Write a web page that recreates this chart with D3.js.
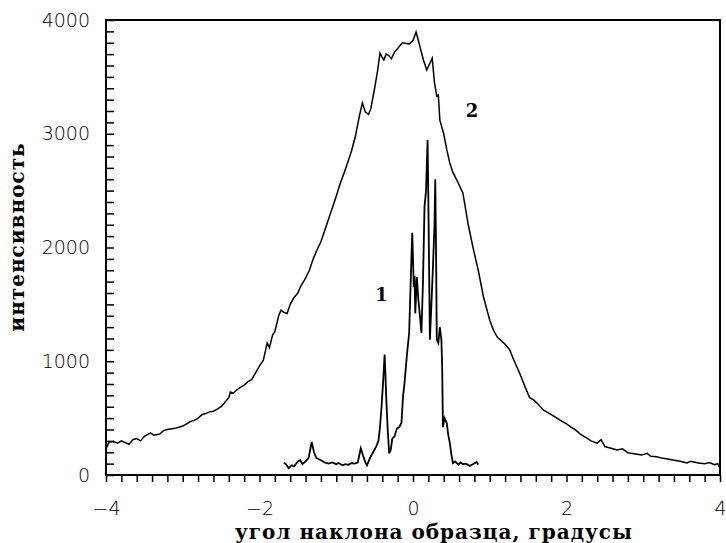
<!DOCTYPE html>
<html>
<head>
<meta charset="utf-8">
<script src="https://cdn.jsdelivr.net/npm/d3@7"></script>
<style>
body { margin: 0; background: #fff; }
</style>
</head>
<body>
<script>
// curve 2: broad rocking curve
let curve2 = [
  [-4.0, 230], [-3.96, 290], [-3.9, 295], [-3.85, 280], [-3.8, 300], [-3.75, 285], [-3.7, 270],
  [-3.65, 310], [-3.6, 320], [-3.55, 300], [-3.5, 340], [-3.45, 360], [-3.42, 370], [-3.38, 350],
  [-3.3, 360], [-3.25, 390], [-3.2, 400], [-3.1, 410], [-3.05, 420], [-3.0, 430], [-2.95, 450],
  [-2.9, 470], [-2.85, 480], [-2.8, 500], [-2.75, 530], [-2.7, 540], [-2.65, 555], [-2.6, 560],
  [-2.55, 580], [-2.5, 600], [-2.45, 640], [-2.4, 680], [-2.38, 730], [-2.34, 720], [-2.3, 745],
  [-2.25, 770], [-2.2, 790], [-2.15, 820], [-2.1, 840], [-2.05, 900], [-2.0, 960], [-1.95, 1010],
  [-1.9, 1160], [-1.87, 1120], [-1.83, 1230], [-1.8, 1260], [-1.75, 1400], [-1.72, 1450],
  [-1.68, 1430], [-1.64, 1420], [-1.6, 1500], [-1.55, 1560], [-1.5, 1600], [-1.47, 1650],
  [-1.4, 1730], [-1.35, 1800], [-1.3, 1900], [-1.25, 1980], [-1.2, 2050], [-1.15, 2150], [-1.1, 2250],
  [-1.05, 2350], [-1.0, 2450], [-0.95, 2560], [-0.9, 2650], [-0.85, 2750], [-0.8, 2850],
  [-0.75, 2980], [-0.7, 3150], [-0.66, 3270], [-0.62, 3190], [-0.58, 3170], [-0.55, 3220],
  [-0.5, 3400], [-0.46, 3560], [-0.43, 3710], [-0.4, 3670], [-0.38, 3650], [-0.35, 3700],
  [-0.32, 3690], [-0.28, 3660], [-0.24, 3720], [-0.2, 3750], [-0.14, 3800], [-0.1, 3795],
  [-0.05, 3790], [0.0, 3820], [0.04, 3895], [0.07, 3820], [0.1, 3740], [0.14, 3640], [0.18, 3560],
  [0.22, 3620], [0.25, 3665], [0.28, 3450], [0.31, 3330], [0.33, 3340], [0.35, 3120],
  [0.4, 3000], [0.44, 2860], [0.48, 2740], [0.52, 2660], [0.58, 2580], [0.65, 2480], [0.72, 2200],
  [0.78, 2005], [0.85, 1800], [0.92, 1560], [1.0, 1360], [1.05, 1270], [1.1, 1210], [1.15, 1180],
  [1.2, 1150], [1.26, 1100], [1.32, 1000], [1.39, 895], [1.46, 775], [1.52, 680], [1.57, 660],
  [1.62, 630], [1.7, 570], [1.78, 540], [1.85, 510], [1.92, 480], [2.0, 450], [2.06, 420],
  [2.12, 395], [2.18, 360], [2.25, 330], [2.32, 300], [2.4, 280], [2.45, 310], [2.5, 250],
  [2.58, 235], [2.66, 220], [2.73, 230], [2.8, 195], [2.9, 185], [2.98, 175], [3.05, 190],
  [3.1, 165], [3.17, 160], [3.24, 150], [3.32, 140], [3.4, 130], [3.48, 120], [3.57, 105],
  [3.62, 120], [3.66, 115], [3.72, 105], [3.8, 100], [3.86, 110], [3.93, 90], [3.97, 100], [4.0, 60]
];

// curve 1: narrow multi-peak curve
let curve1 = [
  [-1.68, 110], [-1.65, 90], [-1.62, 60], [-1.58, 85], [-1.55, 75], [-1.5, 120], [-1.47, 130],
  [-1.44, 95], [-1.4, 120], [-1.36, 150], [-1.32, 290], [-1.29, 200], [-1.26, 150], [-1.2, 130],
  [-1.15, 110], [-1.1, 100], [-1.05, 110], [-1.0, 95], [-0.97, 105], [-0.92, 85], [-0.88, 95],
  [-0.84, 90], [-0.8, 105], [-0.76, 100], [-0.72, 110], [-0.68, 235], [-0.65, 170], [-0.62, 110],
  [-0.6, 85], [-0.56, 150], [-0.52, 200], [-0.48, 250], [-0.45, 300], [-0.43, 420], [-0.41, 600],
  [-0.39, 810], [-0.37, 1060], [-0.36, 900], [-0.35, 700], [-0.33, 400], [-0.31, 190],
  [-0.29, 220], [-0.27, 320], [-0.24, 340], [-0.21, 410], [-0.18, 420], [-0.15, 460],
  [-0.13, 690], [-0.11, 810], [-0.08, 1050], [-0.05, 1250], [-0.03, 1700], [-0.01, 2130],
  [0.0, 1900], [0.01, 1650], [0.02, 1750], [0.03, 1420], [0.05, 1740], [0.07, 1540],
  [0.09, 1400], [0.11, 1250], [0.13, 1700], [0.15, 2360], [0.17, 2500], [0.19, 2945],
  [0.2, 2420], [0.22, 1190], [0.24, 1500], [0.26, 1830], [0.28, 2200], [0.29, 2600], [0.3, 2000],
  [0.31, 1190], [0.33, 1160], [0.35, 1300], [0.37, 1190], [0.38, 950], [0.39, 420], [0.41, 500],
  [0.44, 455], [0.46, 350], [0.48, 280], [0.5, 180], [0.52, 105], [0.55, 120], [0.59, 90],
  [0.62, 110], [0.65, 95], [0.69, 100], [0.74, 80], [0.78, 95], [0.83, 115], [0.85, 90]
];

let xTicks = d3.range(-20, 21).map(i => i / 5);
let xLabels = [-4, -2, 0, 2, 4];
let yTicks = d3.range(0, 41).map(i => i * 100);
let yLabels = [0, 1000, 2000, 3000, 4000];

let width = 726;
let height = 543;
let plotLeft = 106, plotRight = 720, plotTop = 20, plotBottom = 475;

let svg = d3.select("body").append("svg").attr("width", width).attr("height", height);

let x = d3.scaleLinear().domain([-4, 4]).range([plotLeft, plotRight]);
let y = d3.scaleLinear().domain([0, 4000]).range([plotBottom, plotTop]);

svg.append("g")
  .attr("transform", "translate(0," + plotBottom + ")")
  .call(d3.axisBottom(x)
    .tickValues(xTicks)
    .tickSize(7)
    .tickPadding(20)
    .tickFormat(d => xLabels.some(v => Math.abs(v - d) < 1e-6) ? d3.format("d")(Math.round(d)) : ""));

svg.append("g")
  .attr("transform", "translate(" + plotLeft + ",0)")
  .call(d3.axisLeft(y)
    .tickValues(yTicks)
    .tickSize(-8)
    .tickPadding(16)
    .tickFormat(d => yLabels.includes(d) ? d : ""));

svg.selectAll(".domain").remove();
svg.selectAll(".tick line").attr("stroke", "#000").attr("stroke-width", 1.5);
svg.selectAll(".tick text")
  .attr("fill", "#000")
  .style("font-family", "'DejaVu Sans', sans-serif")
  .style("font-weight", 200)
  .style("font-size", "19px");

// frame
svg.append("rect")
  .attr("x", plotLeft)
  .attr("y", plotTop)
  .attr("width", plotRight - plotLeft)
  .attr("height", plotBottom - plotTop)
  .attr("fill", "none")
  .attr("stroke", "#000")
  .attr("stroke-width", 2);

let line = d3.line().x(d => x(d[0])).y(d => y(d[1]));

svg.append("path")
  .attr("d", line(curve2))
  .attr("fill", "none")
  .attr("stroke", "#000")
  .attr("stroke-width", 1.5);

svg.append("path")
  .attr("d", line(curve1))
  .attr("fill", "none")
  .attr("stroke", "#000")
  .attr("stroke-width", 1.8);

// curve labels
svg.append("text")
  .attr("x", x(-0.41))
  .attr("y", y(1530))
  .attr("text-anchor", "middle")
  .style("font-family", "'DejaVu Serif', serif")
  .style("font-weight", "bold")
  .style("font-size", "18px")
  .text("1");

svg.append("text")
  .attr("x", x(0.77))
  .attr("y", y(3150))
  .attr("text-anchor", "middle")
  .style("font-family", "'DejaVu Serif', serif")
  .style("font-weight", "bold")
  .style("font-size", "18px")
  .text("2");

// axis titles
svg.append("text")
  .attr("x", 434)
  .attr("y", 539)
  .attr("text-anchor", "middle")
  .style("font-family", "'DejaVu Serif', serif")
  .style("font-weight", "bold")
  .style("font-size", "20px")
  .style("letter-spacing", "1px")
  .text("угол наклона образца, градусы");

svg.append("text")
  .attr("transform", "translate(24,237) rotate(-90)")
  .attr("text-anchor", "middle")
  .style("font-family", "'DejaVu Serif', serif")
  .style("font-weight", "bold")
  .style("font-size", "20px")
  .style("letter-spacing", "1px")
  .text("интенсивность");
</script>
</body>
</html>
